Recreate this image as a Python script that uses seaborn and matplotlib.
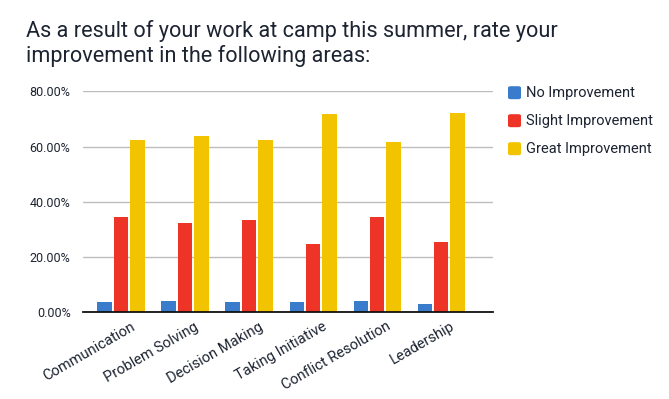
import matplotlib
matplotlib.use("Agg")
import matplotlib.pyplot as plt
import matplotlib.transforms as mtransforms
import seaborn as sns
import pandas as pd
from matplotlib.ticker import FuncFormatter, FixedLocator
from matplotlib.patches import FancyBboxPatch

categories = ["Communication", "Problem Solving", "Decision Making",
              "Taking Initiative", "Conflict Resolution", "Leadership"]
series_names = ["No Improvement", "Slight Improvement", "Great Improvement"]
no_improvement = [3.7, 4.0, 3.8, 3.7, 4.1, 3.0]
slight_improvement = [34.6, 32.4, 33.5, 24.7, 34.6, 25.6]
great_improvement = [62.4, 63.9, 62.4, 71.9, 61.5, 72.3]
y_ticks = [0, 20, 40, 60, 80]
title_lines = ["As a result of your work at camp this summer, rate your",
               "improvement in the following areas:"]
colors = ["#3a7ccc", "#ee3327", "#f2c400"]

rows = []
for name, vals in zip(series_names, [no_improvement, slight_improvement, great_improvement]):
    for c, v in zip(categories, vals):
        rows.append({"Area": c, "Series": name, "Value": v})
df = pd.DataFrame(rows)

sns.set_style("white")
font = "Roboto"
plt.rcParams["font.family"] = [font, "DejaVu Sans"]
text_color = "#1c2331"

fig = plt.figure(figsize=(6.69, 3.99), dpi=100)
ax = fig.add_axes([83 / 669, 1 - 312.3 / 399, 410 / 669, 221 / 399])

sns.barplot(data=df, x="Area", y="Value", hue="Series", order=categories,
            hue_order=series_names, palette=colors, width=0.765,
            saturation=1, ax=ax, legend=False)

bw = 14.5 / 64
for p in ax.patches:
    cx = p.get_x() + p.get_width() / 2
    p.set_width(bw)
    p.set_x(cx - bw / 2)
    p.set_linewidth(0)
    p.set_zorder(3)

ax.set_xlim(-0.594, 5.81)
ax.set_ylim(0, 80)
ax.yaxis.set_major_locator(FixedLocator(y_ticks))
ax.yaxis.set_major_formatter(FuncFormatter(lambda v, pos: f"{v:.2f}%"))
ax.grid(axis="y", color="#bdbdbd", linewidth=1.0, zorder=0)
ax.set_axisbelow(True)
for s in ["top", "right", "left"]:
    ax.spines[s].set_visible(False)
ax.spines["bottom"].set_color("#111111")
ax.spines["bottom"].set_linewidth(1.3)
ax.spines["bottom"].set_zorder(4)
ax.set_xlabel("")
ax.set_ylabel("")
ax.tick_params(axis="y", length=0, pad=9, labelsize=9, labelcolor=text_color)
ax.tick_params(axis="x", length=0, pad=3, labelsize=10.5, labelcolor=text_color)
offset = mtransforms.ScaledTranslation(9 / 100, -3 / 100, fig.dpi_scale_trans)
for lbl in ax.get_xticklabels():
    lbl.set_rotation(30)
    lbl.set_ha("right")
    lbl.set_rotation_mode("anchor")
    lbl.set_transform(lbl.get_transform() + offset)

fig.text(26 / 669, 1 - 37 / 399, title_lines[0], ha="left", va="baseline",
         fontsize=15.6, color=text_color)
fig.text(26 / 669, 1 - 62 / 399, title_lines[1], ha="left", va="baseline",
         fontsize=15.6, color=text_color)

for i, (name, col) in enumerate(zip(series_names, colors)):
    yc = 1 - (92.7 + 28 * i) / 399
    fig.patches.append(FancyBboxPatch((508 / 669, yc - 6.5 / 399), 13 / 669, 13 / 399,
                                      boxstyle="round,pad=0,rounding_size=0.004",
                                      transform=fig.transFigure, facecolor=col,
                                      edgecolor="none", figure=fig))
    fig.text(526 / 669, yc, name, ha="left", va="center", fontsize=10.5,
             color=text_color)

fig.savefig("out.png", dpi=100)
